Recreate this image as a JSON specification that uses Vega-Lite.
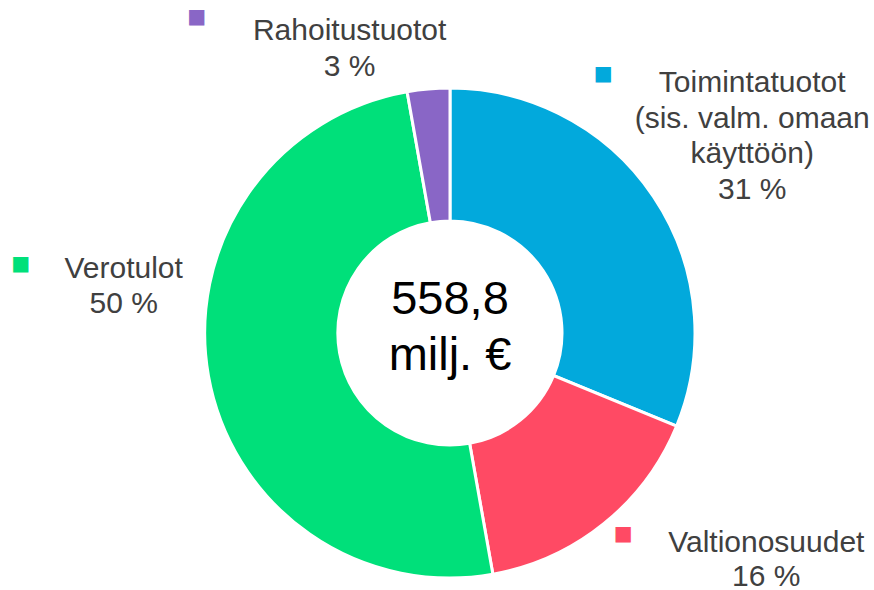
{
  "$schema": "https://vega.github.io/schema/vega-lite/v6.json",
  "width": 848,
  "height": 514,
  "padding": {"left": 26, "top": 76, "right": 0, "bottom": 0},
  "autosize": {"type": "none"},
  "background": "white",
  "config": {"view": {"stroke": null}},
  "data": {
    "values": [
      {"i": 1, "category": "Toimintatuotot", "value": 31.2, "lines": ["Toimintatuotot", "(sis. valm. omaan", "käyttöön)", "31 %"]},
      {"i": 2, "category": "Valtionosuudet", "value": 16.0, "lines": ["Valtionosuudet", "16 %"]},
      {"i": 3, "category": "Verotulot", "value": 50.0, "lines": ["Verotulot", "50 %"]},
      {"i": 4, "category": "Rahoitustuotot", "value": 2.8, "lines": ["Rahoitustuotot", "3 %"]}
    ]
  },
  "layer": [
    {
      "encoding": {
        "theta": {"field": "value", "type": "quantitative", "stack": true},
        "order": {"field": "i", "type": "quantitative"},
        "color": {
          "field": "category",
          "type": "nominal",
          "scale": {
            "domain": ["Toimintatuotot", "Valtionosuudet", "Verotulot", "Rahoitustuotot"],
            "range": ["#02A9DC", "#FF4A64", "#00E07A", "#8966C6"]
          },
          "legend": null
        }
      },
      "layer": [
        {
          "mark": {"type": "arc", "outerRadius": 245, "innerRadius": 112, "stroke": "white", "strokeWidth": 3}
        },
        {
          "mark": {"type": "text", "radius": 300, "align": "center", "baseline": "alphabetic", "font": "Liberation Sans", "fontSize": 30, "lineHeight": 35.5, "dx": 53, "dy": -73.5},
          "encoding": {
            "color": {"value": "#404040"},
            "text": {"condition": {"test": "datum.category === 'Toimintatuotot'", "field": "lines", "type": "nominal"}, "value": ""}
          }
        },
        {
          "mark": {"type": "text", "radius": 300, "align": "center", "baseline": "alphabetic", "font": "Liberation Sans", "fontSize": 30, "lineHeight": 34.5, "dx": 128, "dy": -15},
          "encoding": {
            "color": {"value": "#404040"},
            "text": {"condition": {"test": "datum.category === 'Valtionosuudet'", "field": "lines", "type": "nominal"}, "value": ""}
          }
        },
        {
          "mark": {"type": "text", "radius": 300, "align": "center", "baseline": "alphabetic", "font": "Liberation Sans", "fontSize": 30, "lineHeight": 35.5, "dx": -31, "dy": -108},
          "encoding": {
            "color": {"value": "#404040"},
            "text": {"condition": {"test": "datum.category === 'Verotulot'", "field": "lines", "type": "nominal"}, "value": ""}
          }
        },
        {
          "mark": {"type": "text", "radius": 300, "align": "center", "baseline": "alphabetic", "font": "Liberation Sans", "fontSize": 30, "lineHeight": 35.5, "dx": -74, "dy": 6},
          "encoding": {
            "color": {"value": "#404040"},
            "text": {"condition": {"test": "datum.category === 'Rahoitustuotot'", "field": "lines", "type": "nominal"}, "value": ""}
          }
        },
        {
          "mark": {"type": "text", "radius": 300, "align": "center", "baseline": "middle", "font": "DejaVu Sans", "fontSize": 20, "dx": -96, "dy": -92},
          "encoding": {
            "text": {"condition": {"test": "datum.category === 'Toimintatuotot'", "value": "■"}, "value": ""}
          }
        },
        {
          "mark": {"type": "text", "radius": 300, "align": "center", "baseline": "middle", "font": "DejaVu Sans", "fontSize": 20, "dx": -15, "dy": -33},
          "encoding": {
            "text": {"condition": {"test": "datum.category === 'Valtionosuudet'", "value": "■"}, "value": ""}
          }
        },
        {
          "mark": {"type": "text", "radius": 300, "align": "center", "baseline": "middle", "font": "DejaVu Sans", "fontSize": 20, "dx": -134, "dy": -122},
          "encoding": {
            "text": {"condition": {"test": "datum.category === 'Verotulot'", "value": "■"}, "value": ""}
          }
        },
        {
          "mark": {"type": "text", "radius": 300, "align": "center", "baseline": "middle", "font": "DejaVu Sans", "fontSize": 20, "dx": -227, "dy": -17},
          "encoding": {
            "text": {"condition": {"test": "datum.category === 'Rahoitustuotot'", "value": "■"}, "value": ""}
          }
        }
      ]
    },
    {
      "data": {"values": [{"lines": ["558,8", "milj. €"]}]},
      "mark": {"type": "text", "align": "center", "baseline": "alphabetic", "font": "Liberation Sans", "fontSize": 47, "lineHeight": 56, "dy": -19, "color": "#000000"},
      "encoding": {
        "text": {"field": "lines", "type": "nominal"}
      }
    }
  ]
}
